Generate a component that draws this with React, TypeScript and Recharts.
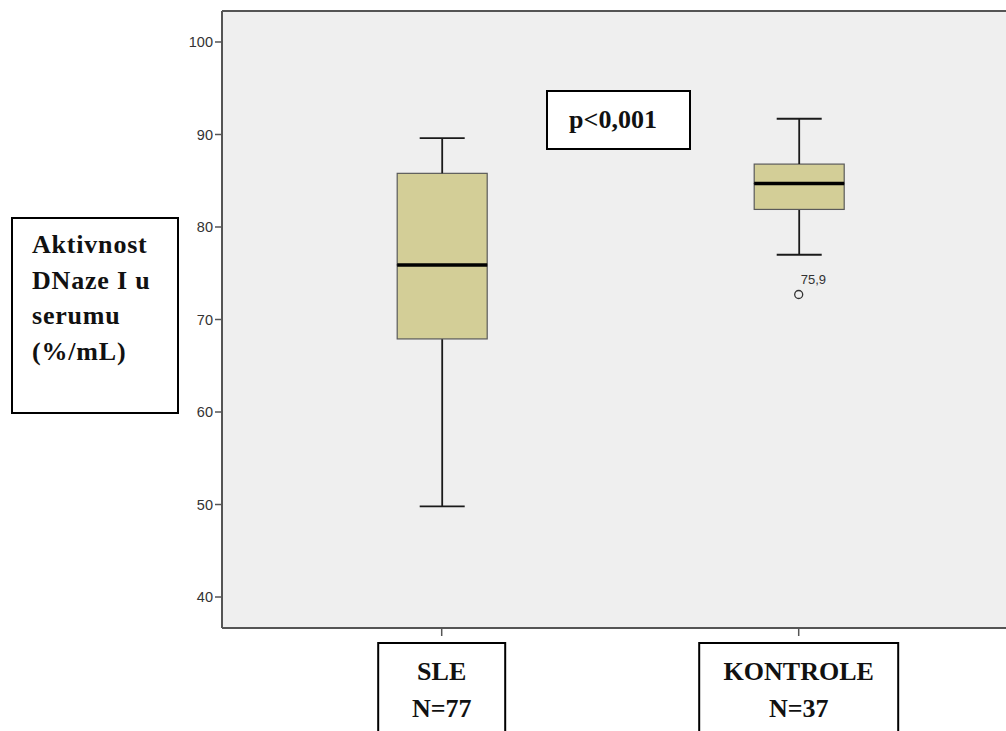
import React from "react";
import {
  ComposedChart,
  Bar,
  Scatter,
  XAxis,
  YAxis,
  CartesianGrid,
  ReferenceLine,
} from "recharts";

const categories = ["SLE", "KONTROLE"];
const sampleSizes = [77, 37];
const minValues = [49.8, 77.0];
const q1Values = [67.9, 81.9];
const medianValues = [75.9, 84.7];
const q3Values = [85.8, 86.8];
const maxValues = [89.6, 91.7];
const outlierValues: (number | null)[] = [null, 72.7];
const outlierLabels = ["", "75,9"];
const yTicks = [40, 50, 60, 70, 80, 90, 100];
const yDomain = [36.65, 103.35];

const data = categories.map((name, i) => ({
  name,
  n: sampleSizes[i],
  base: minValues[i],
  lowWhisker: q1Values[i] - minValues[i],
  lowBox: medianValues[i] - q1Values[i],
  highBox: q3Values[i] - medianValues[i],
  highWhisker: maxValues[i] - q3Values[i],
  outlier: outlierValues[i],
  outlierLabel: outlierLabels[i],
}));

const BOX_FILL = "#d3ce97";
const BOX_STROKE = "#5a5a5a";
const AXIS = "#555555";
const SERIF = "'Liberation Serif', 'Times New Roman', serif";
const SANS = "'Liberation Sans', Arial, sans-serif";

const LowWhisker = (props: any) => {
  const { x, y, width, height } = props;
  const cx = x + width / 2;
  return (
    <g>
      <line x1={cx} x2={cx} y1={y} y2={y + height} stroke="#1a1a1a" strokeWidth={1.8} />
      <line x1={cx - width / 4} x2={cx + width / 4} y1={y + height} y2={y + height} stroke="#1a1a1a" strokeWidth={1.8} />
    </g>
  );
};

const HighWhisker = (props: any) => {
  const { x, y, width, height } = props;
  const cx = x + width / 2;
  return (
    <g>
      <line x1={cx} x2={cx} y1={y} y2={y + height} stroke="#1a1a1a" strokeWidth={1.8} />
      <line x1={cx - width / 4} x2={cx + width / 4} y1={y} y2={y} stroke="#1a1a1a" strokeWidth={1.8} />
    </g>
  );
};

const LowBox = (props: any) => {
  const { x, y, width, height } = props;
  return <rect x={x} y={y} width={width} height={height} fill={BOX_FILL} stroke={BOX_STROKE} strokeWidth={1.2} />;
};

// upper half of the box, median drawn on its bottom edge so it sits on top
const HighBox = (props: any) => {
  const { x, y, width, height } = props;
  return (
    <g>
      <rect x={x} y={y} width={width} height={height} fill={BOX_FILL} stroke={BOX_STROKE} strokeWidth={1.2} />
      <line x1={x} x2={x + width} y1={y + height} y2={y + height} stroke="#000" strokeWidth={3.5} />
    </g>
  );
};

const OutlierShape = (props: any) => {
  const { cx, cy, payload } = props;
  if (payload == null || payload.outlier == null || !isFinite(cy)) return <g />;
  return (
    <g>
      <circle cx={cx} cy={cy} r={4} fill="none" stroke="#333" strokeWidth={1.3} />
      <text x={cx + 2} y={cy - 11} fontFamily={SANS} fontSize={13} fill="#333">
        {payload.outlierLabel}
      </text>
    </g>
  );
};

const boxWidths: Record<string, number> = { SLE: 127, KONTROLE: 199 };

const CategoryTick = (props: any) => {
  const { x, y, payload } = props;
  const name = payload.value as string;
  const row = data.find((d) => d.name === name);
  const w = boxWidths[name] ?? 150;
  return (
    <g>
      <rect x={x - w / 2} y={y + 7} width={w} height={100} fill="#fff" stroke="#000" strokeWidth={2} />
      <text x={x} y={y + 44} textAnchor="middle" fontFamily={SERIF} fontWeight="bold" fontSize={26} fill="#111">
        {name}
      </text>
      <text x={x} y={y + 81} textAnchor="middle" fontFamily={SERIF} fontWeight="bold" fontSize={26} fill="#111">
        N={row ? row.n : ""}
      </text>
    </g>
  );
};

const App = () => {
  return (
    <div
      style={{
        position: "absolute",
        left: 0,
        top: 0,
        width: 1006,
        height: 731,
        overflow: "hidden",
        background: "#fff",
      }}
    >
      <ComposedChart
        width={1040}
        height={731}
        data={data}
        barSize={90}
        margin={{ top: 11, right: 21.6, bottom: 0, left: 162 }}
      >
        <CartesianGrid fill="#efefef" horizontal={false} vertical={false} />
        <XAxis
          dataKey="name"
          height={103}
          padding={{ left: 41.2, right: 41.2 }}
          tickSize={8}
          tickMargin={0}
          tickLine={{ stroke: AXIS, strokeWidth: 1.5 }}
          axisLine={{ stroke: AXIS, strokeWidth: 2 }}
          tick={<CategoryTick />}
          interval={0}
        />
        <YAxis
          width={60}
          domain={yDomain}
          ticks={yTicks}
          allowDataOverflow
          tickSize={7}
          tickMargin={2}
          tickLine={{ stroke: AXIS, strokeWidth: 1.5 }}
          axisLine={{ stroke: AXIS, strokeWidth: 2 }}
          tick={{ fontFamily: SANS, fontSize: 14.5, fill: "#333" }}
        />
        <ReferenceLine y={yDomain[1]} stroke={AXIS} strokeWidth={2} ifOverflow="visible" />
        <Bar dataKey="base" stackId="box" fill="transparent" isAnimationActive={false} />
        <Bar dataKey="lowWhisker" stackId="box" shape={<LowWhisker />} isAnimationActive={false} />
        <Bar dataKey="lowBox" stackId="box" shape={<LowBox />} isAnimationActive={false} />
        <Bar dataKey="highBox" stackId="box" shape={<HighBox />} isAnimationActive={false} />
        <Bar dataKey="highWhisker" stackId="box" shape={<HighWhisker />} isAnimationActive={false} />
        <Scatter dataKey="outlier" shape={<OutlierShape />} isAnimationActive={false} />
      </ComposedChart>

      <svg
        width={1006}
        height={731}
        style={{ position: "absolute", left: 0, top: 0, pointerEvents: "none" }}
      >
        <rect x={12} y={218} width={166} height={195} fill="#fff" stroke="#000" strokeWidth={2} />
        {["Aktivnost", "DNaze I u", "serumu", "(%/mL)"].map((line, i) => (
          <text
            key={line}
            x={32}
            y={253 + i * 35.5}
            fontFamily={SERIF}
            fontWeight="bold"
            fontSize={26}
            letterSpacing={0.8}
            fill="#111"
          >
            {line}
          </text>
        ))}
        <rect x={547} y={91} width={143} height={58} fill="#fff" stroke="#000" strokeWidth={2} />
        <text x={613} y={128} textAnchor="middle" fontFamily={SERIF} fontWeight="bold" fontSize={26} fill="#111">
          p&lt;0,001
        </text>
      </svg>
    </div>
  );
};

export default App;
